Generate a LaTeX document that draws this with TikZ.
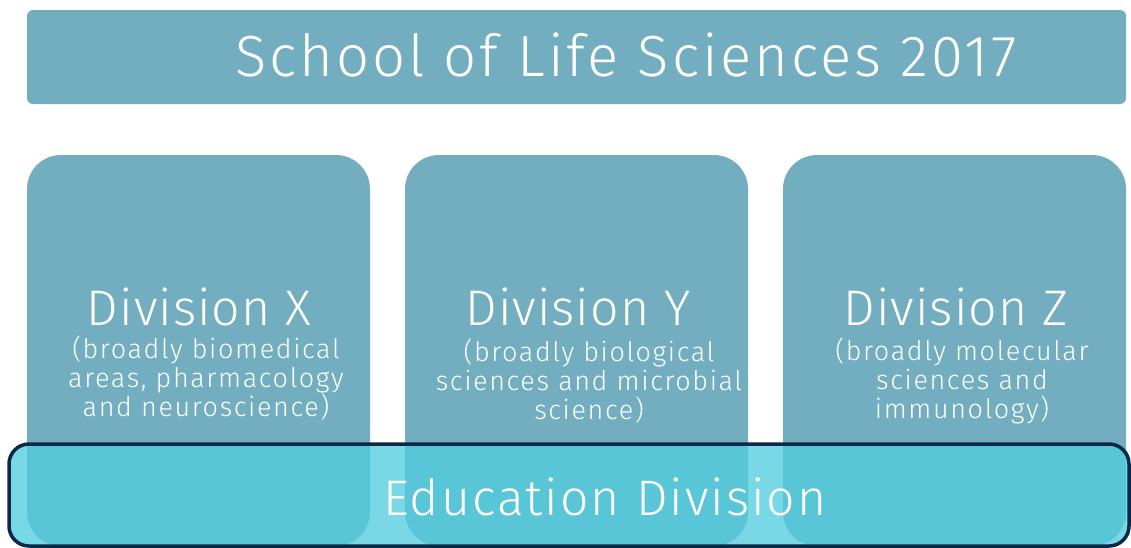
\documentclass[tikz,border=0pt]{standalone}
\usepackage{fontspec}
\setmainfont{Fira Sans Light}
\usepackage{tikz}
\usetikzlibrary{positioning}
\definecolor{boxteal}{RGB}{114,174,192}
\definecolor{educyan}{RGB}{82,205,222}
\definecolor{edunavy}{RGB}{10,40,72}
\tikzset{
  divbox/.style={fill=boxteal, rounded corners=34pt, minimum width=343pt,
    minimum height=391pt, inner sep=0pt},
  headtext/.style={text=white,
    font=\fontsize{50}{52}\selectfont\addfontfeatures{LetterSpace=2}},
  subtext/.style={text=white, align=center, inner sep=0pt,
    font=\fontsize{27}{29}\selectfont\addfontfeatures{LetterSpace=6}}
}
\begin{document}
\begin{tikzpicture}[x=1pt,y=-1pt]
  \useasboundingbox (0,0) rectangle (1131,547);

  %% banner
  \node[fill=boxteal, rounded corners=6pt, minimum width=1099pt,
    minimum height=94pt, inner sep=0pt] (banner) at (576.5,57) {};
  \node[text=white,
    font=\fontsize{58}{60}\selectfont\addfontfeatures{LetterSpace=5}]
    (title) at (626,55) {School of Life Sciences 2017};

  %% divisions
  \node[divbox] (divX) at (198.5,350.5) {};
  \node[divbox] (divY) at (576.5,350.5) {};
  \node[divbox] (divZ) at (954.5,350.5) {};

  \node[headtext] (headX) at (199,307) {Division X};
  \node[subtext] (subX) at (206,378)
    {(broadly biomedical\\areas, pharmacology\\and neuroscience)};

  \node[headtext] (headY) at (578,307) {Division Y};
  \node[subtext] (subY) at (589,381)
    {(broadly biological\\sciences and microbial\\science)};

  \node[headtext] (headZ) at (956,307) {Division Z};
  \node[subtext] (subZ) at (962,381)
    {(broadly molecular\\sciences and\\immunology)};

  %% education bar
  \node[fill=educyan, fill opacity=0.78, draw=edunavy, line width=3.5pt,
    rounded corners=20pt, minimum width=1120pt, minimum height=102pt,
    inner sep=0pt] (edu) at (569,495) {};
  \node[text=white,
    font=\fontsize{50}{52}\selectfont\addfontfeatures{LetterSpace=4}]
    (eduText) at (605,497) {Education Division};
\end{tikzpicture}
\end{document}
